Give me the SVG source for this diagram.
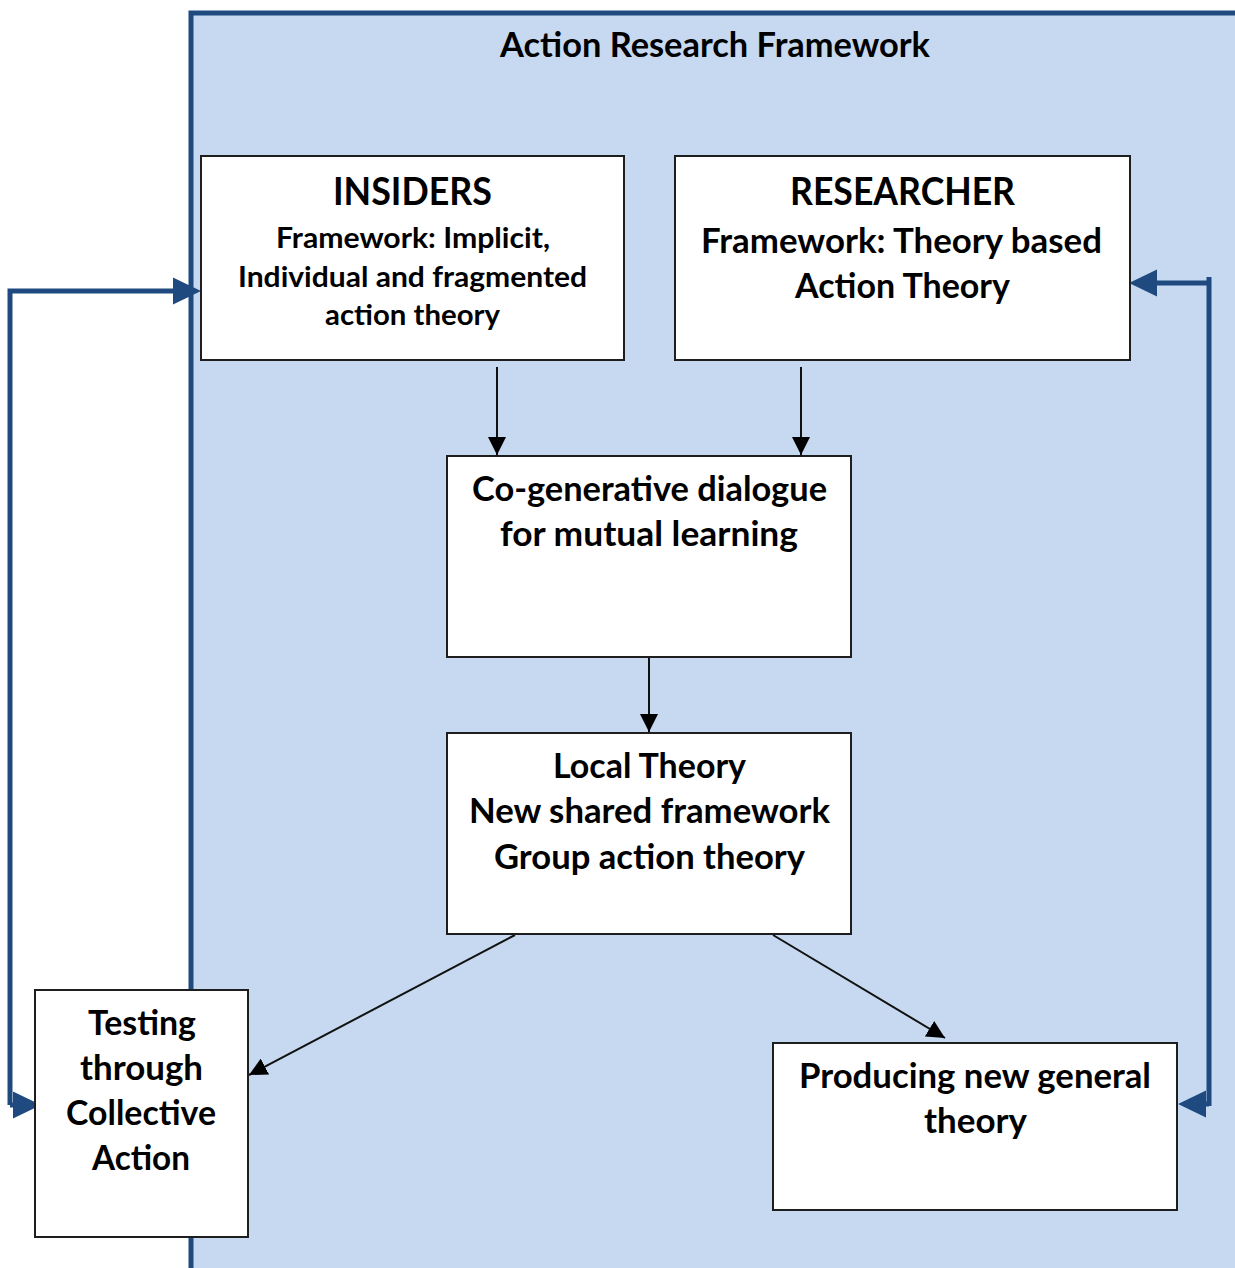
<svg xmlns="http://www.w3.org/2000/svg" width="1235" height="1268" viewBox="0 0 1235 1268">
  <style>
    .box { fill: #ffffff; stroke: #1e1e1e; stroke-width: 2; }
    .t { font-family: Lato, "Open Sans", "Liberation Sans", sans-serif; font-weight: 700; fill: #000; }
    .title { font-size: 34px; }
    .head { font-size: 38px; }
    .big { font-size: 34px; }
    .small { font-size: 29px; }
    .flow { stroke: #111; stroke-width: 2; fill: none; }
    .loop { stroke: #1F4A80; stroke-width: 5; fill: none; }
  </style>
  <defs>
    <marker id="tip" markerUnits="userSpaceOnUse" markerWidth="18" markerHeight="18" viewBox="0 0 16 16" refX="16" refY="8" orient="auto">
      <path d="M0,0 L16,8 L0,16 Z" fill="#000"/>
    </marker>
    <!-- blue head starts where its line stops -->
    <marker id="bigtip" markerUnits="userSpaceOnUse" markerWidth="28" markerHeight="28" viewBox="0 0 27 26" refX="0" refY="13" orient="auto">
      <path d="M0,0 L27,13 L0,26 Z" fill="#1F4A80"/>
    </marker>
  </defs>

  <!-- framework panel -->
  <rect id="framework" x="191" y="13" width="1060" height="1270" fill="#C6D9F0" stroke="#1F4A80" stroke-width="5"/>
  <text class="t title" x="500" y="57" textLength="430" lengthAdjust="spacingAndGlyphs">Action Research Framework</text>

  <g id="connectors">
    <!-- feedback loops -->
    <path class="loop" d="M10,1105 V291 H173" marker-end="url(#bigtip)"/>
    <path class="loop" d="M10,1105 H13" marker-end="url(#bigtip)"/>
    <path class="loop" d="M1209,1106 V277"/>
    <path class="loop" d="M1209,283 H1157" marker-end="url(#bigtip)"/>
    <path class="loop" d="M1209,1104 H1206" marker-end="url(#bigtip)"/>

    <!-- main flow -->
    <line class="flow" x1="497" y1="367" x2="497" y2="455" marker-end="url(#tip)"/>
    <line class="flow" x1="801" y1="367" x2="801" y2="455" marker-end="url(#tip)"/>
    <line class="flow" x1="649" y1="658" x2="649" y2="732" marker-end="url(#tip)"/>
    <line class="flow" x1="515" y1="935" x2="249" y2="1075" marker-end="url(#tip)"/>
    <line class="flow" x1="773" y1="935" x2="945" y2="1038" marker-end="url(#tip)"/>
  </g>

  <g id="insiders">
    <rect class="box" x="201" y="156" width="423" height="204"/>
    <text class="t head" x="333" y="205" textLength="159" lengthAdjust="spacingAndGlyphs">INSIDERS</text>
    <text class="t small" x="276" y="248" textLength="274" lengthAdjust="spacingAndGlyphs">Framework: Implicit,</text>
    <text class="t small" x="238" y="287" textLength="349" lengthAdjust="spacingAndGlyphs">Individual and fragmented</text>
    <text class="t small" x="325" y="325" textLength="175" lengthAdjust="spacingAndGlyphs">action theory</text>
  </g>

  <g id="researcher">
    <rect class="box" x="675" y="156" width="455" height="204"/>
    <text class="t head" x="790" y="205" textLength="225" lengthAdjust="spacingAndGlyphs">RESEARCHER</text>
    <text class="t big" x="701" y="253" textLength="401" lengthAdjust="spacingAndGlyphs">Framework: Theory based</text>
    <text class="t big" x="795" y="298" textLength="215" lengthAdjust="spacingAndGlyphs">Action Theory</text>
  </g>

  <g id="dialogue">
    <rect class="box" x="447" y="456" width="404" height="201"/>
    <text class="t big" x="472" y="501" textLength="355" lengthAdjust="spacingAndGlyphs">Co-generative dialogue</text>
    <text class="t big" x="500" y="546" textLength="298" lengthAdjust="spacingAndGlyphs">for mutual learning</text>
  </g>

  <g id="local-theory">
    <rect class="box" x="447" y="733" width="404" height="201"/>
    <text class="t big" x="553" y="778" textLength="193" lengthAdjust="spacingAndGlyphs">Local Theory</text>
    <text class="t big" x="469" y="823" textLength="361" lengthAdjust="spacingAndGlyphs">New shared framework</text>
    <text class="t big" x="494" y="869" textLength="311" lengthAdjust="spacingAndGlyphs">Group action theory</text>
  </g>

  <g id="testing">
    <rect class="box" x="35" y="990" width="213" height="247"/>
    <text class="t big" x="88" y="1035" textLength="108" lengthAdjust="spacingAndGlyphs">Testing</text>
    <text class="t big" x="80" y="1080" textLength="123" lengthAdjust="spacingAndGlyphs">through</text>
    <text class="t big" x="66" y="1125" textLength="150" lengthAdjust="spacingAndGlyphs">Collective</text>
    <text class="t big" x="92" y="1170" textLength="98" lengthAdjust="spacingAndGlyphs">Action</text>
  </g>

  <g id="general-theory">
    <rect class="box" x="773" y="1043" width="404" height="167"/>
    <text class="t big" x="799" y="1088" textLength="352" lengthAdjust="spacingAndGlyphs">Producing new general</text>
    <text class="t big" x="924" y="1133" textLength="103" lengthAdjust="spacingAndGlyphs">theory</text>
  </g>
</svg>
